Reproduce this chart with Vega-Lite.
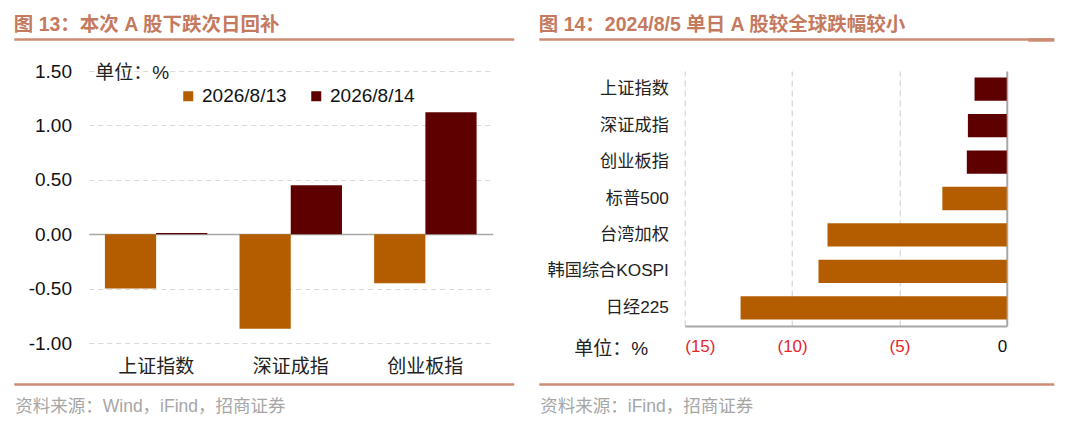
{
  "$schema": "https://vega.github.io/schema/vega-lite/v6.json",
  "padding": {"left": 13.75, "top": 14, "right": 5, "bottom": 5},
  "background": "white",
  "bounds": "flush",
  "spacing": 192,
  "resolve": {"scale": {"color": "independent"}, "legend": {"color": "independent"}},
  "config": {
    "view": {"stroke": null},
    "font": "Liberation Sans, Noto Sans CJK SC",
    "axis": {"labelFont": "Liberation Sans, Noto Sans CJK SC", "titleFont": "Liberation Sans, Noto Sans CJK SC"},
    "legend": {"labelFont": "Liberation Sans, Noto Sans CJK SC"},
    "title": {"font": "Liberation Sans, Noto Sans CJK SC"}
  },
  "hconcat": [
    {
      "width": 404,
      "height": 272,
      "title": {"text": "图 13：本次 A 股下跌次日回补", "anchor": "start", "frame": "group", "dx": -75, "dy": 19, "offset": 8, "baseline": "alphabetic", "fontSize": 19.5, "fontWeight": "bold", "color": "#c47a5e"},
      "resolve": {"scale": {"x": "independent"}, "axis": {"x": "independent"}},
      "layer": [
        {
          "data": {"values": [
            {"index": "上证指数", "date": "2026/8/13", "value": -0.50},
            {"index": "上证指数", "date": "2026/8/14", "value": 0.01},
            {"index": "深证成指", "date": "2026/8/13", "value": -0.87},
            {"index": "深证成指", "date": "2026/8/14", "value": 0.45},
            {"index": "创业板指", "date": "2026/8/13", "value": -0.45},
            {"index": "创业板指", "date": "2026/8/14", "value": 1.12}
          ]},
          "mark": {"type": "bar"},
          "encoding": {
            "x": {"field": "index", "type": "nominal",
              "scale": {"domain": ["上证指数", "深证成指", "创业板指"], "paddingInner": 0.239, "paddingOuter": 0.12},
              "axis": {"orient": "bottom", "domain": false, "ticks": false, "grid": false, "labelAngle": 0, "labelFontSize": 19, "labelColor": "#222222", "labelPadding": 14, "title": null}},
            "xOffset": {"field": "date", "type": "nominal", "scale": {"domain": ["2026/8/13", "2026/8/14"], "paddingInner": 0, "paddingOuter": 0}},
            "y": {"field": "value", "type": "quantitative",
              "scale": {"domain": [-1, 1.5], "nice": false, "zero": false},
              "axis": {"values": [-1, -0.5, 0, 0.5, 1, 1.5],
                "labelExpr": "(datum.value < 0 ? '-' : '') + format(abs(datum.value), '.2f')",
                "domain": false, "ticks": false, "labelFontSize": 19, "labelColor": "#111111", "labelPadding": 17.3,
                "gridColor": {"condition": {"test": "datum.value === 0", "value": "#a8a8a8"}, "value": "#d9d9d9"},
                "gridDash": {"condition": {"test": "datum.value === 0", "value": []}, "value": [5, 4]},
                "gridWidth": {"condition": {"test": "datum.value === 0", "value": 1.6}, "value": 1},
                "title": "单位：%", "titleAngle": 0, "titleX": 6, "titleY": 1, "titleAlign": "left", "titleBaseline": "middle",
                "titleFontSize": 19, "titleFontWeight": "normal", "titleColor": "#222222"}},
            "color": {"field": "date", "type": "nominal",
              "scale": {"domain": ["2026/8/13", "2026/8/14"], "range": ["#b35c00", "#5e0000"]},
              "legend": {"orient": "none", "legendX": 90, "legendY": 15.5, "direction": "horizontal", "title": null,
                "symbolType": "square", "symbolSize": 100, "symbolStrokeWidth": 0, "labelFontSize": 19, "labelColor": "#111111",
                "labelOffset": 4.3, "columnPadding": 20}}
          }
        },
        {
          "data": {"values": [{"d": 0.5, "v": 0}]},
          "mark": {"type": "point", "opacity": 0},
          "encoding": {
            "y": {"field": "v", "type": "quantitative"},
            "x": {"field": "d", "type": "quantitative", "scale": {"domain": [0, 1], "range": [-75, 425], "nice": false, "zero": false},
              "axis": {"orient": "top", "offset": 32, "domainColor": "#cf8c74", "domainWidth": 2.5, "ticks": false, "labels": false, "grid": false, "title": null}}
          }
        },
        {
          "data": {"values": [{"d": 0.5, "v": 0}]},
          "mark": {"type": "point", "opacity": 0},
          "encoding": {
            "y": {"field": "v", "type": "quantitative"},
            "x": {"field": "d", "type": "quantitative", "scale": {"domain": [0, 1], "range": [-75, 425], "nice": false, "zero": false},
              "axis": {"orient": "bottom", "offset": 41, "domainColor": "#cf8c74", "domainWidth": 2.5, "ticks": false, "labels": false, "grid": false,
                "title": "资料来源：Wind，iFind，招商证券", "titleX": -74, "titleY": 22.7, "titleAlign": "left", "titleBaseline": "middle",
                "titleFontSize": 17.5, "titleFontWeight": "normal", "titleColor": "#a6a6a6"}}
          }
        }
      ]
    },
    {
      "width": 322,
      "height": 255,
      "title": {"text": "图 14：2024/8/5 单日 A 股较全球跌幅较小", "anchor": "start", "frame": "group", "dx": -146, "dy": 19, "offset": 8, "baseline": "alphabetic", "fontSize": 19.5, "fontWeight": "bold", "color": "#c47a5e"},
      "resolve": {"scale": {"x": "independent"}, "axis": {"x": "independent"}},
      "layer": [
        {
          "data": {"values": [
            {"name": "上证指数", "group": "A股", "value": -1.50},
            {"name": "深证成指", "group": "A股", "value": -1.81},
            {"name": "创业板指", "group": "A股", "value": -1.86},
            {"name": "标普500", "group": "海外", "value": -3.00},
            {"name": "台湾加权", "group": "海外", "value": -8.35},
            {"name": "韩国综合KOSPI", "group": "海外", "value": -8.77},
            {"name": "日经225", "group": "海外", "value": -12.40}
          ]},
          "mark": {"type": "bar"},
          "encoding": {
            "y": {"field": "name", "type": "nominal",
              "scale": {"domain": ["上证指数", "深证成指", "创业板指", "标普500", "台湾加权", "韩国综合KOSPI", "日经225"], "paddingInner": 0.36, "paddingOuter": 0.18},
              "axis": {"domain": false, "ticks": false, "grid": false, "labelFontSize": 17.2, "labelColor": "#222222", "labelPadding": 16.4,
                "title": "单位：%", "titleAngle": 0, "titleX": -111, "titleY": 277.3, "titleAlign": "left", "titleBaseline": "middle",
                "titleFontSize": 19, "titleFontWeight": "normal", "titleColor": "#222222"}},
            "x": {"field": "value", "type": "quantitative",
              "scale": {"domain": [-15, 0], "nice": false, "zero": false},
              "axis": {"orient": "bottom", "values": [-15, -10, -5, 0],
                "labelExpr": "datum.value < 0 ? '(' + format(-datum.value, 'd') + ')' : '0'",
                "labelColor": {"condition": {"test": "datum.value < 0", "value": "#e3262b"}, "value": "#111111"},
                "labelFontSize": 17, "labelPadding": 12, "ticks": false,
                "domain": true, "domainColor": "#a8a8a8", "domainWidth": 2,
                "gridColor": {"condition": {"test": "datum.value === 0", "value": "#a8a8a8"}, "value": "#d4d4d4"},
                "gridDash": {"condition": {"test": "datum.value === 0", "value": []}, "value": [6, 4]},
                "gridWidth": {"condition": {"test": "datum.value === 0", "value": 2}, "value": 1.2},
                "title": null}},
            "color": {"field": "group", "type": "nominal",
              "scale": {"domain": ["A股", "海外"], "range": ["#5e0000", "#b35c00"]}, "legend": null}
          }
        },
        {
          "data": {"values": [{"d": 0.5, "n": "上证指数"}]},
          "mark": {"type": "point", "opacity": 0},
          "encoding": {
            "y": {"field": "n", "type": "nominal"},
            "x": {"field": "d", "type": "quantitative", "scale": {"domain": [0, 1], "range": [-146, 369], "nice": false, "zero": false},
              "axis": {"orient": "top", "offset": 32, "domainColor": "#cf8c74", "domainWidth": 2.5, "ticks": false, "labels": false, "grid": false, "title": null}}
          }
        },
        {
          "data": {"values": [{"d": 0.5, "n": "上证指数"}]},
          "mark": {"type": "point", "opacity": 0},
          "encoding": {
            "y": {"field": "n", "type": "nominal"},
            "x": {"field": "d", "type": "quantitative", "scale": {"domain": [0, 1], "range": [343, 369], "nice": false, "zero": false},
              "axis": {"orient": "top", "offset": 31.5, "domainColor": "#cf8c74", "domainWidth": 3.5, "ticks": false, "labels": false, "grid": false, "title": null}}
          }
        },
        {
          "data": {"values": [{"d": 0.5, "n": "上证指数"}]},
          "mark": {"type": "point", "opacity": 0},
          "encoding": {
            "y": {"field": "n", "type": "nominal"},
            "x": {"field": "d", "type": "quantitative", "scale": {"domain": [0, 1], "range": [-146, 369], "nice": false, "zero": false},
              "axis": {"orient": "bottom", "offset": 58, "domainColor": "#cf8c74", "domainWidth": 2.5, "ticks": false, "labels": false, "grid": false,
                "title": "资料来源：iFind，招商证券", "titleX": -145, "titleY": 22.7, "titleAlign": "left", "titleBaseline": "middle",
                "titleFontSize": 17.5, "titleFontWeight": "normal", "titleColor": "#a6a6a6"}}
          }
        }
      ]
    }
  ]
}
